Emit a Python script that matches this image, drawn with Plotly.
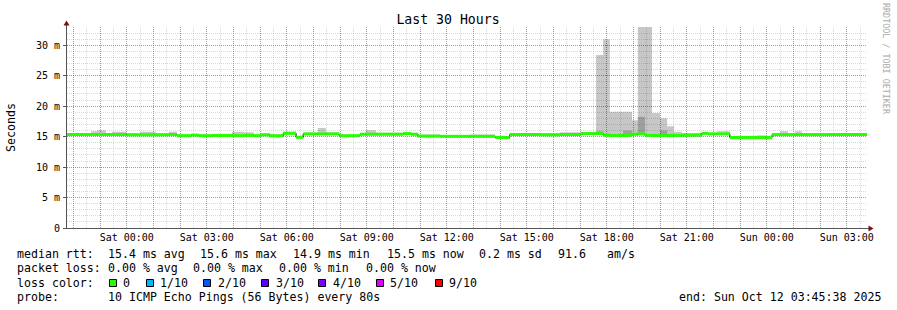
import plotly.graph_objects as go
import pandas as pd

# ---------------- data ----------------
start_time = "2025-10-10 21:45:38"
end_time = "2025-10-12 03:45:38"

step_start = [
    "2025-10-10 21:45:38", "2025-10-10 22:40", "2025-10-10 22:53", "2025-10-10 23:13", "2025-10-10 23:27",
    "2025-10-11 00:00", "2025-10-11 00:30", "2025-10-11 01:06", "2025-10-11 01:35", "2025-10-11 01:53",
    "2025-10-11 02:25", "2025-10-11 02:43", "2025-10-11 03:14", "2025-10-11 03:57", "2025-10-11 04:24",
    "2025-10-11 04:46", "2025-10-11 05:02", "2025-10-11 05:22", "2025-10-11 05:52", "2025-10-11 06:21",
    "2025-10-11 06:37", "2025-10-11 07:10", "2025-10-11 07:28", "2025-10-11 07:58", "2025-10-11 08:45",
    "2025-10-11 08:58", "2025-10-11 09:21", "2025-10-11 10:22", "2025-10-11 10:40", "2025-10-11 10:55",
    "2025-10-11 11:45", "2025-10-11 12:52", "2025-10-11 13:49", "2025-10-11 14:22", "2025-10-11 15:30",
    "2025-10-11 16:15", "2025-10-11 17:02", "2025-10-11 17:36", "2025-10-11 17:52", "2025-10-11 18:07",
    "2025-10-11 18:37", "2025-10-11 18:57", "2025-10-11 19:10", "2025-10-11 19:26", "2025-10-11 19:42",
    "2025-10-11 20:00", "2025-10-11 20:16", "2025-10-11 20:31", "2025-10-11 20:49", "2025-10-11 21:34",
    "2025-10-11 21:48", "2025-10-11 22:08", "2025-10-11 22:37", "2025-10-11 23:38", "2025-10-11 23:58",
    "2025-10-12 00:12", "2025-10-12 00:30", "2025-10-12 00:48", "2025-10-12 01:04", "2025-10-12 01:19",
    "2025-10-12 02:22",
]

median_ms = [
    15.35, 15.35, 15.35, 15.35, 15.35, 15.30, 15.30, 15.30, 15.35, 15.15,
    15.25, 15.15, 15.20, 15.15, 15.20, 15.15, 15.30, 15.15, 15.55, 14.90,
    15.45, 15.45, 15.45, 15.15, 15.40, 15.40, 15.40, 15.50, 15.40, 15.10,
    15.05, 15.05, 14.87, 15.35, 15.30, 15.35, 15.50, 15.50, 15.25, 15.20,
    15.20, 15.40, 15.45, 15.20, 15.20, 15.20, 15.20, 15.20, 15.25, 15.55,
    15.45, 15.45, 14.88, 14.88, 14.88, 15.33, 15.33, 15.33, 15.33, 15.33,
    15.35,
]

smoke_lo_ms = [
    15.20, 15.20, 15.20, 15.20, 15.20, 15.15, 15.15, 15.15, 15.15, 14.95,
    15.05, 14.95, 15.00, 15.00, 15.00, 15.00, 15.10, 14.90, 15.35, 14.70,
    15.25, 15.25, 15.25, 14.95, 15.20, 15.20, 15.20, 15.30, 15.20, 14.90,
    14.85, 14.85, 14.70, 15.15, 15.10, 15.15, 15.30, 15.30, 15.05, 15.00,
    15.00, 15.20, 15.25, 15.00, 15.00, 15.00, 14.90, 15.00, 15.00, 15.35,
    15.25, 15.25, 14.55, 14.55, 14.55, 15.15, 15.15, 15.15, 15.15, 15.15,
    15.15,
]

smoke_hi_ms = [
    15.60, 15.90, 16.05, 15.60, 15.80, 15.55, 15.80, 15.55, 15.80, 15.40,
    15.45, 15.40, 15.40, 15.80, 15.70, 15.40, 15.50, 15.35, 15.80, 15.10,
    15.65, 16.40, 15.70, 15.35, 15.60, 16.05, 15.65, 15.70, 15.60, 15.30,
    15.25, 15.35, 15.05, 15.60, 15.55, 15.70, 15.70, 28.40, 31.00, 19.07,
    19.07, 17.70, 34.50, 34.50, 18.90, 18.00, 16.70, 15.80, 15.60, 15.75,
    15.65, 15.90, 15.10, 15.20, 15.10, 15.55, 15.90, 15.55, 15.90, 15.55,
    15.60,
]

core_lo_ms = [
    15.30, 15.30, 15.30, 15.30, 15.30, 15.25, 15.25, 15.25, 15.30, 15.05,
    15.15, 15.05, 15.10, 15.05, 15.10, 15.05, 15.20, 15.05, 15.45, 14.80,
    15.35, 15.35, 15.35, 15.05, 15.30, 15.30, 15.30, 15.40, 15.30, 15.00,
    14.95, 14.95, 14.80, 15.25, 15.20, 15.25, 15.40, 15.40, 15.15, 15.10,
    15.10, 15.30, 15.35, 15.10, 15.10, 15.10, 14.95, 15.10, 15.15, 15.45,
    15.35, 15.35, 14.75, 14.75, 14.75, 15.25, 15.25, 15.25, 15.25, 15.25,
    15.25,
]

core_hi_ms = [
    15.40, 15.45, 15.50, 15.40, 15.45, 15.35, 15.40, 15.35, 15.45, 15.25,
    15.30, 15.25, 15.25, 15.30, 15.30, 15.25, 15.35, 15.20, 15.65, 15.00,
    15.50, 15.60, 15.50, 15.25, 15.45, 15.55, 15.45, 15.55, 15.45, 15.15,
    15.10, 15.15, 14.95, 15.40, 15.35, 15.45, 15.55, 15.90, 15.40, 15.35,
    16.00, 15.60, 18.25, 15.40, 15.40, 16.00, 15.35, 15.30, 15.35, 15.60,
    15.50, 15.55, 14.95, 15.00, 14.95, 15.40, 15.45, 15.40, 15.45, 15.40,
    15.40,
]

x_tick_times = ["2025-10-11 00:00", "2025-10-11 03:00", "2025-10-11 06:00", "2025-10-11 09:00",
                "2025-10-11 12:00", "2025-10-11 15:00", "2025-10-11 18:00", "2025-10-11 21:00",
                "2025-10-12 00:00", "2025-10-12 03:00"]
x_tick_labels = ["Sat 00:00", "Sat 03:00", "Sat 06:00", "Sat 09:00", "Sat 12:00",
                 "Sat 15:00", "Sat 18:00", "Sat 21:00", "Sun 00:00", "Sun 03:00"]
y_tick_values = [0, 5, 10, 15, 20, 25, 30]
y_tick_labels = ["0", "5 m", "10 m", "15 m", "20 m", "25 m", "30 m"]

title_text = "Last 30 Hours"
y_title = "Seconds"
watermark = "RRDTOOL / TOBI OETIKER"
rtt_label = "median rtt:"
rtt_stats = ["15.4 ms avg", "15.6 ms max", "14.9 ms min", "15.5 ms now", "0.2 ms sd", "91.6", "am/s"]
loss_label = "packet loss:"
loss_stats = ["0.00 % avg", "0.00 % max", "0.00 % min", "0.00 % now"]
color_label = "loss color:"
loss_levels = ["0", "1/10", "2/10", "3/10", "4/10", "5/10", "9/10"]
loss_colors = ["#26ff00", "#00b8ff", "#0059ff", "#5e00ff", "#7e00ff", "#dd00ff", "#ff0000"]
probe_label = "probe:"
probe_text = "10 ICMP Echo Pings (56 Bytes) every 80s"
end_text = "end: Sun Oct 12 03:45:38 2025"

# ---------------- layout geometry (pixels) ----------------
W_FIG, H_FIG = 897, 310
L, T, PW, PH = 67, 27, 800, 201
Y_MAX = 33.0
MONO = "DejaVu Sans Mono"
FS = 11.6


def px(x):
    return (x - L) / PW


def py(y):
    return (T + PH - y) / PH


t0 = pd.Timestamp(start_time)
t1 = pd.Timestamp(end_time)
span = (t1 - t0).total_seconds()


def snap_time(ts):
    # move a grid time onto the centre of the nearest whole pixel column
    p = (pd.Timestamp(ts) - t0).total_seconds() / span * PW
    p = round(p - 0.5) + 0.5
    return t0 + pd.Timedelta(seconds=p / PW * span)


def snap_value(v):
    p = v / Y_MAX * PH
    p = round(p - 0.5) + 0.5
    return p / PH * Y_MAX


fig = go.Figure()

# ---------- grid drawn as line traces (beneath the smoke) ----------
MAJOR = "rgba(255,30,30,0.62)"
MINOR = "rgba(0,0,0,0.15)"
DASH = "1px,1px"
grid_times = pd.date_range("2025-10-10 22:00", "2025-10-12 03:30", freq="30min")
grid = {"minor": ([], []), "major": ([], [])}
for ts in grid_times:
    key = "major" if ts.minute == 0 else "minor"
    st = snap_time(ts)
    grid[key][0].extend([st, st, None])
    grid[key][1].extend([0, Y_MAX, None])
for v in range(1, 33):
    key = "major" if v % 5 == 0 else "minor"
    sv = snap_value(v)
    grid[key][0].extend([t0, t1, None])
    grid[key][1].extend([sv, sv, None])
for key, col in (("minor", MINOR), ("major", MAJOR)):
    fig.add_trace(go.Scatter(x=grid[key][0], y=grid[key][1], mode="lines",
                             line=dict(color=col, width=1, dash=DASH),
                             hoverinfo="skip", showlegend=False))

xs = step_start + [end_time]


def steps(vals):
    return vals + [vals[-1]]


# smoke (outer)
fig.add_trace(go.Scatter(x=xs, y=steps(smoke_lo_ms), mode="lines", line=dict(width=0, shape="hv"),
                         hoverinfo="skip", showlegend=False))
fig.add_trace(go.Scatter(x=xs, y=steps(smoke_hi_ms), mode="lines", line=dict(width=0, shape="hv"),
                         fill="tonexty", fillcolor="rgba(0,0,0,0.22)", hoverinfo="skip", showlegend=False))
# smoke (inner, darker)
fig.add_trace(go.Scatter(x=xs, y=steps(core_lo_ms), mode="lines", line=dict(width=0, shape="hv"),
                         hoverinfo="skip", showlegend=False))
fig.add_trace(go.Scatter(x=xs, y=steps(core_hi_ms), mode="lines", line=dict(width=0, shape="hv"),
                         fill="tonexty", fillcolor="rgba(0,0,0,0.20)", hoverinfo="skip", showlegend=False))
# median: thin black step line, then loss-coloured horizontal slabs
fig.add_trace(go.Scatter(x=xs, y=steps(median_ms), mode="lines", line=dict(width=1, shape="hv", color="#000000"),
                         hoverinfo="skip", showlegend=False))
seg_x, seg_y = [], []
for i, v in enumerate(median_ms):
    seg_x += [xs[i], xs[i + 1], None]
    seg_y += [v, v, None]
fig.add_trace(go.Scatter(x=seg_x, y=seg_y, mode="lines", line=dict(width=3, color=loss_colors[0]),
                         hoverinfo="skip", showlegend=False))

fig.update_layout(
    width=W_FIG, height=H_FIG,
    margin=dict(l=L, r=W_FIG - L - PW, t=T, b=H_FIG - T - PH),
    paper_bgcolor="white", plot_bgcolor="white",
    font=dict(family=MONO, color="#000000"),
    showlegend=False,
    title=dict(text=title_text, x=448 / W_FIG, xanchor="center", y=1 - 19 / H_FIG, yanchor="middle",
               font=dict(family=MONO, size=13.2, color="#000000")),
    xaxis=dict(
        type="date", range=[start_time, end_time],
        tickmode="array", tickvals=x_tick_times, ticktext=x_tick_labels,
        showgrid=False, ticks="", showline=False, zeroline=False,
        tickfont=dict(family=MONO, size=10, color="#000000"),
        ticklabelstandoff=2, fixedrange=True,
    ),
    yaxis=dict(
        range=[0, Y_MAX], tickmode="array", tickvals=y_tick_values, ticktext=y_tick_labels,
        showgrid=False, ticks="outside", ticklen=3, tickcolor="#555555", showline=False, zeroline=False,
        tickfont=dict(family=MONO, size=10, color="#000000"),
        ticklabelstandoff=1, fixedrange=True,
    ),
)

shapes = []
# axis lines
shapes.append(dict(type="line", xref="paper", yref="paper", x0=px(66.5), x1=px(66.5), y0=py(228), y1=py(23),
                   line=dict(color="#555555", width=1), layer="above"))
shapes.append(dict(type="line", xref="paper", yref="paper", x0=px(63), x1=px(870), y0=py(228.5), y1=py(228.5),
                   line=dict(color="#555555", width=1), layer="above"))
# arrows
shapes.append(dict(type="path", xref="paper", yref="paper",
                   path=f"M {px(63.5)},{py(25.5)} L {px(69.5)},{py(25.5)} L {px(66.5)},{py(20.5)} Z",
                   fillcolor="#7a1010", line=dict(width=0), layer="above"))
shapes.append(dict(type="path", xref="paper", yref="paper",
                   path=f"M {px(868.5)},{py(225.5)} L {px(868.5)},{py(231.5)} L {px(873.5)},{py(228.5)} Z",
                   fillcolor="#7a1010", line=dict(width=0), layer="above"))

annotations = []


def text_at(s, x, y, anchor="left", size=FS, color="#000000", angle=0):
    annotations.append(dict(text=s, xref="paper", yref="paper", x=px(x), y=py(y), xanchor=anchor,
                            yanchor="middle", showarrow=False, borderpad=0, textangle=angle,
                            font=dict(family=MONO, size=size, color=color)))


# y-axis title and watermark
text_at(y_title, 11, 127, anchor="center", angle=-90)
text_at(watermark, 886, 59, anchor="center", size=8.4, color="#aaaaaa", angle=90)

ROW = [254.3, 268.3, 282.7, 296.7]
text_at(rtt_label, 16, ROW[0])
for s, x in zip(rtt_stats, [107, 199, 292, 386, 478, 557, 606]):
    text_at(s, x, ROW[0])
text_at(loss_label, 16, ROW[1])
for s, x in zip(loss_stats, [107, 192, 278, 365]):
    text_at(s, x, ROW[1])
text_at(color_label, 16, ROW[2])
box_x = [109, 146, 203, 261, 318, 376, 435]
lab_x = [122, 159, 217, 275, 332, 389, 448]
for lvl, col, bx, lx in zip(loss_levels, loss_colors, box_x, lab_x):
    shapes.append(dict(type="rect", xref="paper", yref="paper", x0=px(bx + 0.5), x1=px(bx + 7.5),
                       y0=py(286.5), y1=py(279.5), fillcolor=col, line=dict(color="#000000", width=1)))
    text_at(lvl, lx, ROW[2])
text_at(probe_label, 16, ROW[3])
text_at(probe_text, 107, ROW[3])
text_at(end_text, 882, ROW[3], anchor="right")

fig.update_layout(shapes=shapes, annotations=annotations)
fig.write_html("out.html")
